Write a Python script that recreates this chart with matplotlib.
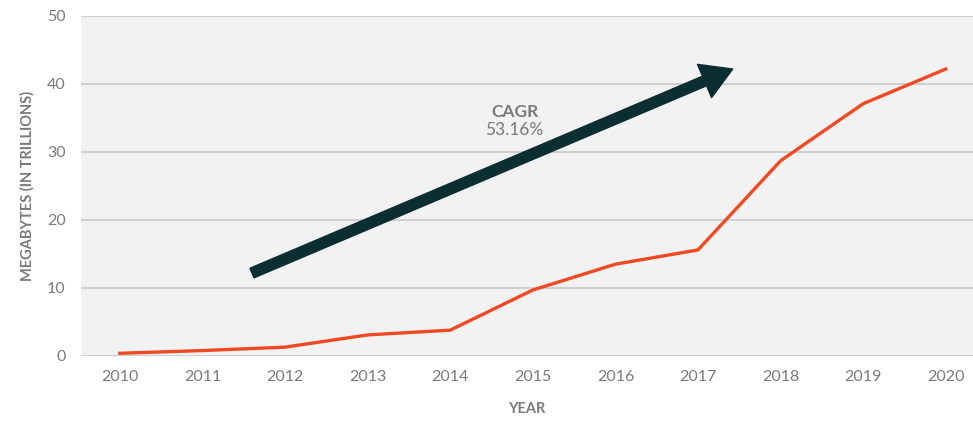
import matplotlib.pyplot as plt
import numpy as np

plt.rcParams['font.family'] = ['Lato', 'DejaVu Sans']

years = [2010, 2011, 2012, 2013, 2014, 2015, 2016, 2017, 2018, 2019, 2020]
megabytes = [0.4, 0.8, 1.3, 3.1, 3.8, 9.7, 13.5, 15.6, 28.7, 37.1, 42.2]
cagr_label = "CAGR"
cagr_value = "53.16%"

gray = '#7a7a7a'

fig = plt.figure(figsize=(9.73, 4.21), dpi=100)
ax = fig.add_axes([0.0833, 0.1544, 0.9167, 0.8076])
ax.set_facecolor('#f2f2f2')

ax.plot(years, megabytes, color='#f04923', lw=2.4, zorder=3)

ax.set_xlim(2009.53, 2020.33)
ax.set_ylim(0, 50)
ax.set_xticks(years)
ax.set_yticks(np.arange(0, 51, 10))
ax.grid(axis='y', color='#c8c8c8', lw=1.2)
ax.set_axisbelow(True)
for s in ax.spines.values():
    s.set_visible(False)
ax.tick_params(length=0, labelsize=11.5, labelcolor=gray)
ax.tick_params(axis='x', pad=10)
ax.tick_params(axis='y', pad=11)

ax.set_xlabel("YEAR", fontsize=10.5, fontweight='bold', color=gray, labelpad=13)
ax.set_ylabel("MEGABYTES (IN TRILLIONS)", fontsize=10.5, fontweight='bold', color=gray, labelpad=9)

# trend arrow
ax.annotate('', xy=(2017.42, 42.2), xytext=(2011.6, 12.2),
            arrowprops=dict(width=7.5, headwidth=26, headlength=22,
                            color='#0b2e33', shrink=0), zorder=4)
ax.text(2014.78, 35.9, cagr_label, ha='center', va='center', fontsize=12.5,
        fontweight='bold', color=gray)
ax.text(2014.78, 33.3, cagr_value, ha='center', va='center', fontsize=12.5,
        color=gray)

fig.savefig('out.png', dpi=100)
